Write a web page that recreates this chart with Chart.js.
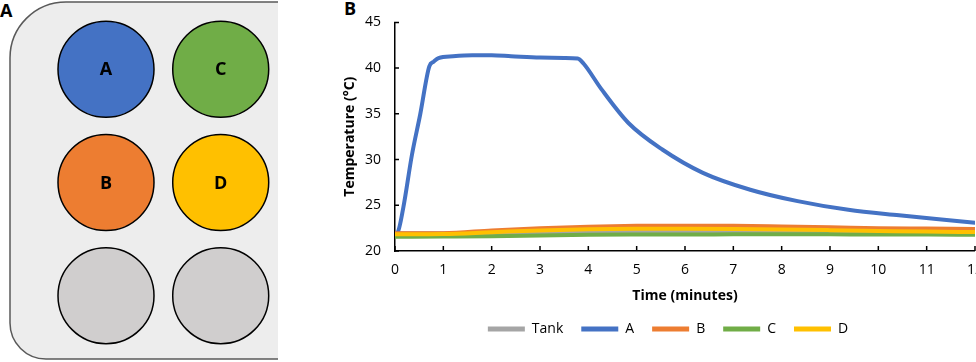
<!DOCTYPE html>
<html>
<head>
<meta charset="utf-8">
<script src="https://cdn.jsdelivr.net/npm/chart.js@4/dist/chart.umd.min.js"></script>
<style>
    body { margin: 0; width: 976px; height: 362px; overflow: hidden; background: #fff; font-family: "Open Sans", sans-serif; }
    .panel-letter { position: absolute; font-weight: bold; font-size: 18px; line-height: 1; color: #000; }
    #plateBox { position: absolute; left: 0; top: 0; width: 290px; height: 362px; }
    #chartBox { position: absolute; left: 330px; top: 0; width: 664px; height: 362px; }
</style>
</head>
<body>
<div class="panel-letter" style="left:0px; top:1px;">A</div>
<div class="panel-letter" style="left:344px; top:-1px;">B</div>
<div id="plateBox"><canvas id="plateChart"></canvas></div>
<div id="chartBox"><canvas id="lineChart"></canvas></div>

<script>
// --- panel A : well plate layout ---
const wellNames = ['A', 'C', 'B', 'D', '', ''];
const wellCol = [1, 2, 1, 2, 1, 2];
const wellRow = [3, 3, 2, 2, 1, 1];
const wellColors = ['#4472C4', '#70AD47', '#ED7D31', '#FFC000', '#D0CECE', '#D0CECE'];

// --- panel B : temperature (°C) over time (minutes) ---
const timeA = [0, 0.05, 0.17, 0.35, 0.52, 0.71, 0.8, 0.9, 1.2, 1.6, 2.0, 2.4, 3.0, 3.5, 3.78,
    3.9, 4.27, 4.83, 5.53, 6.37, 7.35, 8.33, 9.38, 10.43, 11.2, 12.0];
const tempA = [21.9, 22.0, 24.7, 30.5, 34.9, 40.2, 40.7, 41.1, 41.3, 41.4, 41.4, 41.3, 41.15, 41.1, 41.05,
    40.5, 37.7, 34.0, 31.1, 28.55, 26.7, 25.45, 24.5, 23.9, 23.5, 23.1];

const timeWells = [0, 1, 2, 3, 4, 5, 6, 7, 8, 9, 10, 11, 12];
const tempTank = [21.95, 21.95, 21.95, 22.0, 22.05, 22.1, 22.1, 22.1, 22.05, 22.0, 22.0, 21.95, 21.95];
const tempB = [21.95, 21.95, 22.25, 22.5, 22.65, 22.75, 22.77, 22.75, 22.68, 22.6, 22.5, 22.45, 22.4];
const tempC = [21.55, 21.58, 21.62, 21.7, 21.78, 21.8, 21.8, 21.82, 21.83, 21.82, 21.8, 21.8, 21.78];
const tempD = [21.82, 21.85, 22.05, 22.25, 22.38, 22.42, 22.42, 22.4, 22.35, 22.28, 22.2, 22.12, 22.07];

const seriesLabels = ['Tank', 'A', 'B', 'C', 'D'];
const seriesColors = ['#A5A5A5', '#4472C4', '#ED7D31', '#70AD47', '#FFC000'];

const FONT = '"Open Sans", sans-serif';
Chart.defaults.font.family = FONT;
Chart.defaults.color = '#000';

function toPoints(xs, ys) {
    return xs.map((x, i) => ({ x: x, y: ys[i] }));
}

// 1. plate background + well labels
const plateShape = {
    id: 'plateShape',
    beforeDatasetsDraw(chart) {
        const ctx = chart.ctx;
        const left = 10, top = 2, right = 278, bottom = 359;
        ctx.save();
        ctx.beginPath();
        ctx.moveTo(right, top);
        ctx.lineTo(left + 56, top);
        ctx.arcTo(left, top, left, top + 56, 56);
        ctx.lineTo(left, bottom - 36);
        ctx.arcTo(left, bottom, left + 36, bottom, 36);
        ctx.lineTo(right, bottom);
        ctx.fillStyle = '#EDEDED';
        ctx.fill();
        ctx.strokeStyle = '#595959';
        ctx.lineWidth = 1.5;
        ctx.stroke();
        ctx.restore();
    },
    afterDatasetsDraw(chart) {
        const ctx = chart.ctx;
        const meta = chart.getDatasetMeta(0);
        ctx.save();
        ctx.font = 'bold 18px ' + FONT;
        ctx.fillStyle = '#000';
        ctx.textAlign = 'center';
        ctx.textBaseline = 'middle';
        meta.data.forEach((pt, i) => {
            if (wellNames[i]) ctx.fillText(wellNames[i], pt.x, pt.y + 1);
        });
        ctx.restore();
    }
};

new Chart(document.getElementById('plateChart'), {
    type: 'scatter',
    data: {
        datasets: [{
            data: toPoints(wellCol, wellRow),
            backgroundColor: wellColors,
            borderColor: '#000',
            borderWidth: 1.5,
            pointRadius: 48,
            pointHoverRadius: 48,
            clip: false,
        }],
    },
    options: {
        responsive: true,
        maintainAspectRatio: false,
        animation: false,
        events: [],
        layout: { padding: 0, autoPadding: false },
        plugins: { legend: { display: false }, tooltip: { enabled: false } },
        scales: {
            x: { type: 'linear', display: false, min: 0.076, max: 2.604 },
            y: { type: 'linear', display: false, min: 0.414, max: 3.612 },
        },
    },
    plugins: [plateShape],
});

// 2. inward tick marks like the original
const innerTicks = {
    id: 'innerTicks',
    beforeDatasetsDraw(chart) {
        const { ctx, chartArea, scales } = chart;
        ctx.save();
        ctx.strokeStyle = '#000';
        ctx.lineWidth = 1.5;
        ctx.beginPath();
        scales.x.ticks.forEach((t) => {
            const px = scales.x.getPixelForValue(t.value);
            ctx.moveTo(px, chartArea.bottom);
            ctx.lineTo(px, chartArea.bottom - 5);
        });
        scales.y.ticks.forEach((t) => {
            const py = scales.y.getPixelForValue(t.value);
            ctx.moveTo(chartArea.left - 1, py);
            ctx.lineTo(chartArea.left + 4, py);
        });
        ctx.stroke();
        ctx.restore();
    }
};

// 3. line chart
const seriesTimes = [timeWells, timeA, timeWells, timeWells, timeWells];
const seriesTemps = [tempTank, tempA, tempB, tempC, tempD];
const drawOrder = [4, 3, 2, 1, 0]; // later series drawn on top, like Excel

const datasets = seriesLabels.map((label, i) => ({
    label: label,
    data: toPoints(seriesTimes[i], seriesTemps[i]),
    borderColor: seriesColors[i],
    backgroundColor: seriesColors[i],
    pointBorderColor: seriesColors[i],
    pointBorderWidth: 5,
    borderWidth: 4,
    pointRadius: 0,
    cubicInterpolationMode: 'monotone',
    borderCapStyle: 'round',
    borderJoinStyle: 'round',
    fill: false,
    order: drawOrder[i],
}));

new Chart(document.getElementById('lineChart'), {
    type: 'line',
    data: { datasets: datasets },
    options: {
        responsive: true,
        maintainAspectRatio: false,
        animation: false,
        events: [],
        layout: { padding: { left: 12, top: 20, right: 0, bottom: 16 } },
        plugins: {
            tooltip: { enabled: false },
            legend: {
                position: 'bottom',
                labels: {
                    usePointStyle: true,
                    pointStyle: 'line',
                    pointStyleWidth: 37,
                    boxHeight: 14,
                    padding: 18,
                    color: '#000',
                    font: { size: 14 },
                    sort: (a, b) => a.datasetIndex - b.datasetIndex,
                },
            },
        },
        scales: {
            x: {
                type: 'linear',
                min: 0,
                max: 12,
                ticks: { stepSize: 1, padding: 11, font: { size: 14 }, color: '#000', maxRotation: 0 },
                grid: { display: true, drawOnChartArea: false, drawTicks: false },
                border: { display: true, color: '#000', width: 1.5 },
                title: { display: true, text: 'Time (minutes)', font: { size: 14, weight: 'bold' }, color: '#000', padding: { top: 0, bottom: 0 } },
                afterFit: (scale) => { scale.height = 53; },
            },
            y: {
                type: 'linear',
                min: 20,
                max: 45,
                ticks: { stepSize: 5, padding: 14, font: { size: 14 }, color: '#000' },
                grid: { display: true, drawOnChartArea: false, drawTicks: false },
                border: { display: true, color: '#000', width: 1.5 },
                title: { display: true, text: 'Temperature (°C)', font: { size: 14, weight: 'bold' }, color: '#000', padding: { top: 0, bottom: 0 } },
                afterFit: (scale) => { scale.width = 53; },
            },
        },
    },
    plugins: [innerTicks],
});
</script>
</body>
</html>
